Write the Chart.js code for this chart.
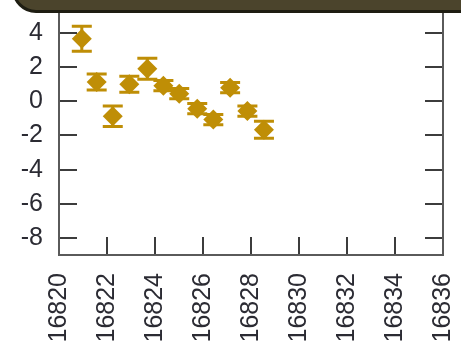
<!DOCTYPE html>
<html lang="en">
<head>
  <meta charset="UTF-8">
  <title>Serie</title>
  <style>
    html, body {
      margin: 0;
      padding: 0;
      background-color: #ffffff;
    }
    .wrap {
      position: relative;
      width: 461px;
      height: 346px;
      overflow: hidden;
    }
    .topFrame {
      position: absolute;
      left: 12px;
      top: -40px;
      width: 520px;
      height: 47px;
      background-color: #4b442c;
      border: 3px solid #1e1d12;
      border-bottom-left-radius: 24px;
    }
  </style>
</head>
<body>
<script src="https://cdn.jsdelivr.net/npm/chart.js"></script>

<div class="wrap">
  <canvas id="errChart" width="461" height="346"></canvas>
  <div class="topFrame"></div>
</div>

<script>
  // dias (MJD) y valores medidos con su error
  const fechas = [16820.95, 16821.57, 16822.24, 16822.93, 16823.68, 16824.35,
                  16825.01, 16825.76, 16826.43, 16827.13, 16827.85, 16828.54];
  const valores = [3.67, 1.13, -0.88, 1.0, 1.91, 0.92,
                   0.45, -0.43, -1.07, 0.80, -0.57, -1.66];
  const errores = [0.73, 0.47, 0.6, 0.47, 0.62, 0.3,
                   0.3, 0.3, 0.3, 0.3, 0.3, 0.5];
  const ticksX = [16820, 16822, 16824, 16826, 16828, 16830, 16832, 16834, 16836];
  const ticksY = [-8, -6, -4, -2, 0, 2, 4];

  const dorado = '#bf8e06';

  // barras de error + marcas de los ejes (hacia adentro)
  const barrasError = {
    id: 'barrasError',
    beforeDatasetsDraw(chart) {
      const ctx = chart.ctx;
      const xs = chart.scales.x;
      const ys = chart.scales.y;
      ctx.save();
      ctx.strokeStyle = dorado;
      ctx.lineWidth = 3;
      for (let i = 0; i < fechas.length; i++) {
        const px = xs.getPixelForValue(fechas[i]);
        const top = ys.getPixelForValue(valores[i] + errores[i]);
        const bot = ys.getPixelForValue(valores[i] - errores[i]);
        ctx.beginPath();
        ctx.moveTo(px, top);
        ctx.lineTo(px, bot);
        ctx.moveTo(px - 10, top);
        ctx.lineTo(px + 10, top);
        ctx.moveTo(px - 10, bot);
        ctx.lineTo(px + 10, bot);
        ctx.stroke();
      }
      ctx.restore();
    },
    afterDraw(chart) {
      const ctx = chart.ctx;
      const a = chart.chartArea;
      const xs = chart.scales.x;
      const ys = chart.scales.y;
      ctx.save();
      ctx.strokeStyle = '#3c3c3c';
      ctx.lineWidth = 2;
      ctx.beginPath();
      ticksY.forEach(function (v) {
        const py = Math.round(ys.getPixelForValue(v));
        ctx.moveTo(a.left, py);
        ctx.lineTo(a.left + 18, py);
        ctx.moveTo(a.right, py);
        ctx.lineTo(a.right - 18, py);
      });
      ticksX.forEach(function (v) {
        const px = Math.round(xs.getPixelForValue(v));
        ctx.moveTo(px, a.bottom);
        ctx.lineTo(px, a.bottom - 18);
      });
      ctx.stroke();
      ctx.strokeStyle = '#5a5a5a';
      ctx.lineWidth = 2;
      ctx.strokeRect(a.left, a.top, a.right - a.left, a.bottom - a.top);
      ctx.restore();
    }
  };

  const config = {
    type: 'scatter',
    data: {
      datasets: [{
        label: 'serie',
        data: fechas.map(function (d, i) { return {x: d, y: valores[i]}; }),
        pointStyle: 'rectRot',
        pointRadius: 10,
        pointHoverRadius: 10,
        backgroundColor: dorado,
        borderColor: dorado,
        borderWidth: 0
      }]
    },
    options: {
      responsive: false,
      animation: false,
      events: [],
      layout: { padding: { left: 0, right: 18, top: 10, bottom: 0 } },
      plugins: { legend: { display: false }, tooltip: { enabled: false } },
      scales: {
        x: {
          type: 'linear',
          min: 16820,
          max: 16836,
          afterBuildTicks(scale) { scale.ticks = ticksX.map(function (v) { return {value: v}; }); },
          afterFit(scale) {
            scale.height = 91;
            scale.paddingLeft = 0;
            scale.paddingRight = 0;
          },
          grid: { display: false, drawTicks: false },
          border: { display: false },
          ticks: {
            minRotation: 90,
            maxRotation: 90,
            padding: 18,
            color: '#2b2b33',
            font: { family: 'Liberation Sans', size: 25 },
            callback: function (v) { return String(v); }
          }
        },
        y: {
          type: 'linear',
          min: -9,
          max: 5.35,
          afterBuildTicks(scale) { scale.ticks = ticksY.map(function (v) { return {value: v}; }); },
          afterFit(scale) {
            scale.width = 59;
            scale.paddingTop = 0;
            scale.paddingBottom = 0;
          },
          grid: { display: false, drawTicks: false },
          border: { display: false },
          ticks: {
            padding: 16,
            color: '#2b2b33',
            font: { family: 'Liberation Sans', size: 25 }
          }
        }
      }
    },
    plugins: [barrasError]
  };

  let errChart = new Chart(document.getElementById('errChart'), config);
</script>

</body>
</html>
